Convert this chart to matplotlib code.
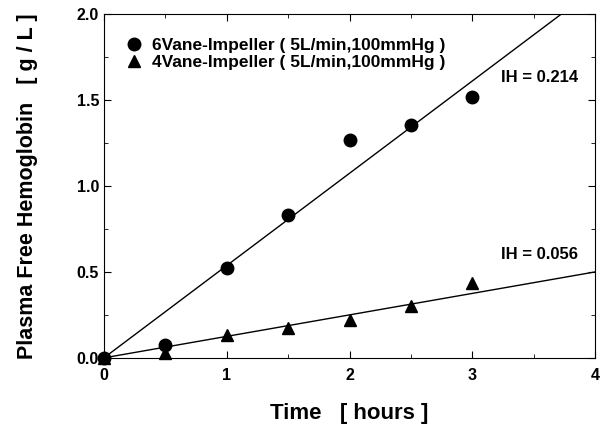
import matplotlib
matplotlib.use("Agg")
import matplotlib.pyplot as plt
import numpy as np
from matplotlib.ticker import MultipleLocator, FormatStrFormatter

plt.rcParams['font.family'] = ['Liberation Sans', 'DejaVu Sans']
plt.rcParams['font.weight'] = 'bold'

time_h = [0, 0.5, 1.0, 1.5, 2.0, 2.5, 3.0]
vane6 = [0.0, 0.075, 0.52, 0.83, 1.27, 1.355, 1.52]
vane4 = [0.0, 0.03, 0.134, 0.175, 0.22, 0.30, 0.435]
slope6 = 0.537
slope4 = 0.125
fit_x = [0, 4]
label6 = "6Vane-Impeller ( 5L/min,100mmHg )"
label4 = "4Vane-Impeller ( 5L/min,100mmHg )"
ih6 = "IH = 0.214"
ih4 = "IH = 0.056"

fig = plt.figure(figsize=(6.08, 4.25), dpi=100)
ax = fig.add_axes([0.171, 0.158, 0.808, 0.809])

fx = np.array(fit_x, dtype=float)
ax.plot(fx, slope6 * fx, color='black', lw=1.0)
ax.plot(fx, slope4 * fx, color='black', lw=1.0)
ax.plot(time_h, vane6, 'o', color='black', ms=9, label=label6, clip_on=False)
ax.plot(time_h, vane4, '^', color='black', ms=9, label=label4, clip_on=False)

ax.set_xlim(0, 4)
ax.set_ylim(0, 2.0)
ax.xaxis.set_major_locator(MultipleLocator(1))
ax.xaxis.set_minor_locator(MultipleLocator(0.5))
ax.yaxis.set_major_locator(MultipleLocator(0.5))
ax.yaxis.set_minor_locator(MultipleLocator(0.25))
ax.tick_params(which='both', direction='in', top=True, right=True, labelsize=11.5)
ax.tick_params(which='major', length=5)
ax.tick_params(which='minor', length=3)
ax.tick_params(axis='x', pad=7)
ax.xaxis.set_major_formatter(FormatStrFormatter('%d'))
ax.yaxis.set_major_formatter(FormatStrFormatter('%.1f'))
for lab in ax.get_xticklabels() + ax.get_yticklabels():
    lab.set_fontweight('bold')

ax.set_xlabel("Time   [ hours ]", fontsize=16, fontweight='bold', labelpad=15)
ax.set_ylabel("Plasma Free Hemoglobin   [ g / L ]", fontsize=15.5, fontweight='bold')
ax.yaxis.set_label_coords(-0.134, 0.5)

leg = ax.legend(loc='upper left', frameon=False, fontsize=12.5, handletextpad=0.35,
                borderaxespad=0.0, labelspacing=0.1, handlelength=1.3,
                bbox_to_anchor=(0.025, 0.95))
for t in leg.get_texts():
    t.set_fontweight('bold')

ax.text(3.23, 1.63, ih6, fontsize=12, fontweight='bold', va='center')
ax.text(3.23, 0.60, ih4, fontsize=12, fontweight='bold', va='center')

fig.savefig("out.png", dpi=100)
